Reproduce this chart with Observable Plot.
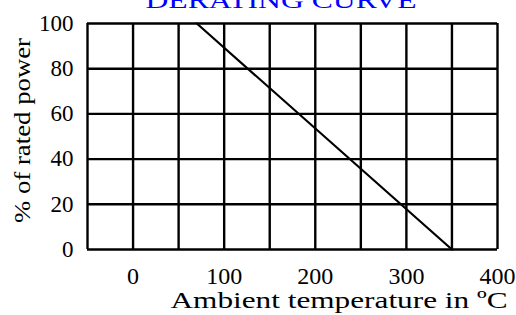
<!DOCTYPE html>
<html>
<head>
<meta charset="utf-8">
<script src="https://cdn.jsdelivr.net/npm/d3@7"></script>
<script src="https://cdn.jsdelivr.net/npm/@observablehq/plot@0.6"></script>
<style>
  html, body { margin: 0; padding: 0; background: #fff; }
  #chart svg, #chart svg text { font-family: "Liberation Serif", Tinos, "Times New Roman", Times, serif !important; }
</style>
</head>
<body>
<div id="chart"></div>
<script>
const title = "DERATING CURVE";
const xLabel = "Ambient temperature in ºC";
const yLabel = "% of rated power";
const xTicks = [0, 100, 200, 300, 400];
const yTicks = [0, 20, 40, 60, 80, 100];
const xGrid = [-50, 0, 50, 100, 150, 200, 250, 300, 350, 400];
const yGrid = [0, 20, 40, 60, 80, 100];
const curveTemp = [70, 350];
const curvePower = [100, 0];

const curve = curveTemp.map((t, i) => ({temp: t, power: curvePower[i]}));

const plot = Plot.plot({
  width: 516,
  height: 315,
  marginLeft: 87,
  marginRight: 19,
  marginTop: 23,
  marginBottom: 66,
  style: {fontFamily: "Liberation Serif, serif", fontSize: "23px", color: "#000", background: "#fff"},
  x: {domain: [-50, 400]},
  y: {domain: [0, 100]},
  marks: [
    Plot.ruleX(xGrid, {stroke: "#000", strokeWidth: 2.4}),
    Plot.ruleY(yGrid, {stroke: "#000", strokeWidth: 2.4}),
    Plot.line(curve, {x: "temp", y: "power", stroke: "#000", strokeWidth: 2.2}),
    Plot.axisX(xTicks, {tickSize: 0, tickPadding: 17, label: null, fontSize: 24}),
    Plot.axisY(yTicks, {tickSize: 0, tickPadding: 14, label: null, fontSize: 23}),
    Plot.text([xLabel], {frameAnchor: "bottom-left", textAnchor: "start", lineAnchor: "middle", dx: 83, dy: 51, fontSize: 24, fill: "#000"}),
    Plot.text([yLabel], {frameAnchor: "left", textAnchor: "middle", lineAnchor: "middle", rotate: -90, dx: -65, dy: -6, fontSize: 23, fill: "#000"}),
    Plot.text([title], {frameAnchor: "top-left", textAnchor: "start", lineAnchor: "middle", dx: 58, dy: -23, fontSize: 24, fill: "#0000ff"})
  ]
});

const svg = d3.select(plot);
const fit = {};
fit[xLabel] = 337;
fit[yLabel] = 185;
fit[title] = 271;
svg.selectAll("text").each(function () {
  const t = this.textContent;
  if (fit[t]) {
    d3.select(this).attr("textLength", fit[t]).attr("lengthAdjust", "spacingAndGlyphs");
  }
});

document.getElementById("chart").appendChild(plot);
</script>
</body>
</html>
